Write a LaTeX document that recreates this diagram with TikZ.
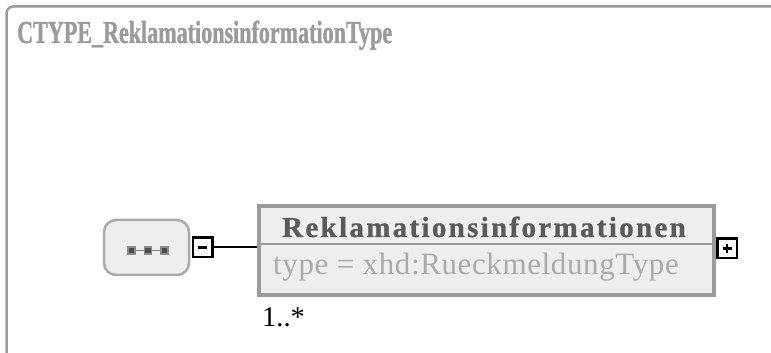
\documentclass[tikz,border=0pt]{standalone}
\usepackage{fontspec}
\setmainfont{Liberation Serif}
\newfontfamily\titlefont[FakeStretch=0.69, FakeBold=1.2]{Liberation Serif}
\newfontfamily\spacedfont[LetterSpace=8, FakeBold=0.8]{Liberation Serif}
\newfontfamily\typefont[LetterSpace=2]{Liberation Serif}
\usetikzlibrary{positioning}
\definecolor{framegray}{RGB}{155,155,155}
\definecolor{boxfill}{RGB}{238,238,238}
\definecolor{namegray}{RGB}{90,90,90}
\definecolor{typegray}{RGB}{170,170,170}

\begin{document}
\begin{tikzpicture}[
    x=1pt, y=1pt,
    frame/.style={draw=framegray, line width=2.5pt, rounded corners=7pt},
    seqbox/.style={rectangle, draw=framegray!85, line width=2.5pt, rounded corners=12pt, fill=boxfill, minimum width=85pt, minimum height=55pt, inner sep=0pt},
    elembox/.style={rectangle, draw=framegray, line width=4.5pt, fill=boxfill, minimum width=455pt, minimum height=89pt, inner sep=0pt},
    toggle/.style={rectangle, draw=black, line width=2.5pt, fill=white, minimum size=19.5pt, inner sep=0pt},
    dot/.style={rectangle, draw=gray!90, fill=gray!60!black, line width=1.2pt, minimum size=7pt, inner sep=0pt},
    link/.style={draw=black, line width=2pt}
]
    \useasboundingbox (0,0) rectangle (771,353);
    \clip (0,0) rectangle (771,353);

    % outer frame of the complex type
    \draw[frame] (790,346.5) -- (6.5,346.5) -- (6.5,-20);
    \node[anchor=base west, text=framegray, inner sep=0pt] (title) at (17,310)
        {\titlefont\bfseries\fontsize{32}{36}\selectfont CTYPE\_ReklamationsinformationType};

    % sequence compositor
    \node[seqbox] (seq) at (146.5,105.5) {};
    \draw[gray, line width=1pt] (131.5,102.5) -- (164.5,102.5);
    \foreach \x in {131.5,148,164.5}
        \node[dot] at (\x,102.5) {};
    \node[toggle, right=1.5pt of seq] (minus) {};
    \draw[line width=2.2pt] ([xshift=-4.5pt]minus.center) -- ([xshift=4.5pt]minus.center);

    % element
    \node[elembox] (elem) at (486.5,102.5) {};
    \draw[framegray, line width=2.5pt] (elem.west |- 0,109) -- (elem.east |- 0,109);
    \node[anchor=base, text=namegray, inner sep=0pt] (name) at (484,116)
        {\spacedfont\bfseries\fontsize{29}{34}\selectfont Reklamationsinformationen};
    \node[anchor=base west, text=typegray, inner sep=0pt] (type) at (273,78)
        {\typefont\fontsize{31}{36}\selectfont type = xhd:RueckmeldungType};
    \node[anchor=base west, inner sep=0pt] (card) at (262,26)
        {\fontsize{28.5}{32}\selectfont 1..*};
    \node[toggle] (plus) at (727,104.5) {};
    \draw[line width=2.2pt] ([xshift=-4.5pt]plus.center) -- ([xshift=4.5pt]plus.center)
        ([yshift=-4.5pt]plus.center) -- ([yshift=4.5pt]plus.center);

    \draw[link] (minus) -- (minus -| elem.west);
\end{tikzpicture}
\end{document}
